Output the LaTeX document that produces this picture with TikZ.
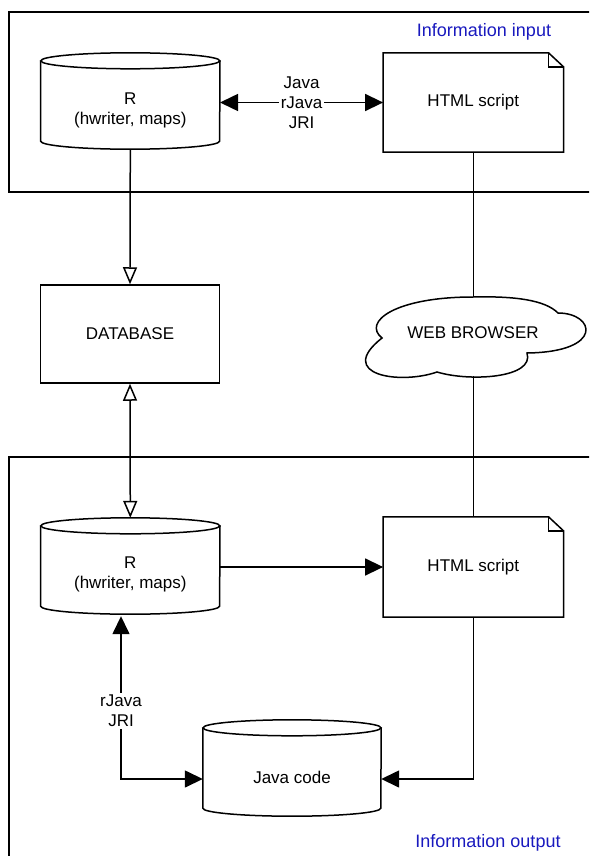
\documentclass[tikz,border=0pt]{standalone}
\usepackage{fontspec}
\setmainfont{Liberation Sans}
\usetikzlibrary{arrows.meta,calc}
\definecolor{lblblue}{RGB}{25,25,190}
\tikzset{
  x=1pt,y=-1pt,
  ln/.style={line width=1.5pt,black},
  txt/.style={font=\fontsize{17}{20}\selectfont,align=center,inner sep=1pt},
  area/.style={font=\fontsize{18}{21}\selectfont,text=lblblue,inner sep=0pt},
  box/.style={draw,ln,minimum width=179pt,minimum height=98pt,txt},
  shapenode/.style={draw=none,inner sep=0pt},
  lbl/.style={txt,fill=white,inner sep=2pt},
  fhead/.tip={Triangle[length=18pt,width=17pt]},
  ohead/.tip={Triangle[open,length=17pt,width=14pt]},
}
\newcommand\drawcyl[2]{%
  \draw[ln] ([yshift=-8pt]#1.north west) -- ([yshift=8pt]#1.south west)
    arc[start angle=180,end angle=360,x radius=#2,y radius=8pt]
    -- ([yshift=-8pt]#1.north east);
  \draw[ln] ([yshift=-8pt]#1.north) ellipse[x radius=#2,y radius=8pt];}
\newcommand\drawdoc[1]{%
  \draw[ln] (#1.north west) -- ([xshift=-15pt]#1.north east) -- ([yshift=-14pt]#1.north east)
    -- (#1.south east) -- (#1.south west) -- cycle;
  \draw[ln] ([xshift=-15pt]#1.north east) |- ([yshift=-14pt]#1.north east);}
\begin{document}
\begin{tikzpicture}
\useasboundingbox (0,0) rectangle (589,856);
\clip (0,0) rectangle (589,856);
% frames
\draw[ln] (9,12) rectangle (620,192);
\draw[ln] (9,457) rectangle (620,900);
\node[area] (inlbl) at (484,32) {Information input};
\node[area] (outlbl) at (488,843) {Information output};
% top part
\node[shapenode,minimum width=179pt,minimum height=96pt] (r1) at (130.3,101) {};
\drawcyl{r1}{89.5pt}
\node[txt] (r1t) at ([yshift=-9pt]r1.center) {R\\(hwriter, maps)};
\node[shapenode,minimum width=180pt,minimum height=99pt] (h1) at (473.3,102.5) {};
\drawdoc{h1}
\node[txt] (h1t) at (h1.center) {HTML script};
\draw[ln,{fhead}-{fhead}] (r1.east |- h1.west) -- node[lbl] (l1) {Java\\rJava\\JRI} (h1.west);
% middle
\node[box] (db) at (130,334) {DATABASE};
\node[txt] (web) at (473,333) {WEB BROWSER};
\draw[ln] (382,338) .. controls (362,322) and (395,297) .. (473,297)
  .. controls (515,296) and (545,300) .. (558,313)
  .. controls (595,313) and (605,352) .. (527,353)
  .. controls (535,378) and (470,382) .. (437,372)
  .. controls (400,385) and (335,375) .. (382,338) -- cycle;
\coordinate (webtop) at (473.3,297);
\coordinate (webbot) at (473.3,376);
\draw[ln,-{ohead}] (r1.south) -- (db.north);
\draw[ln] (h1.south) -- (webtop);
% bottom part
\node[shapenode,minimum width=179pt,minimum height=96pt] (r2) at (130.3,566) {};
\drawcyl{r2}{89.5pt}
\node[txt] (r2t) at ([yshift=-8pt]r2.center) {R\\(hwriter, maps)};
\node[shapenode,minimum width=180pt,minimum height=100pt] (h2) at (473.3,567) {};
\drawdoc{h2}
\node[txt] (h2t) at (h2.center) {HTML script};
\node[shapenode,minimum width=178pt,minimum height=96pt] (jc) at (292,768) {};
\drawcyl{jc}{89pt}
\node[txt] (jct) at ([yshift=-9pt]jc.center) {Java code};
\draw[ln,{ohead}-{ohead}] (db.south) -- (r2.north);
\draw[ln] (webbot) -- (h2.north);
\draw[ln,-{fhead}] (r2.east |- h2.west) -- (h2.west);
\draw[ln,-{fhead}] (h2.south) |- ([yshift=-11pt]jc.east);
\draw[ln,{fhead}-{fhead}] ([xshift=-9.3pt,yshift=-2pt]r2.south) |- node[lbl,pos=0.29] (l2) {rJava\\JRI} ([yshift=-11pt]jc.west);
\end{tikzpicture}
\end{document}
